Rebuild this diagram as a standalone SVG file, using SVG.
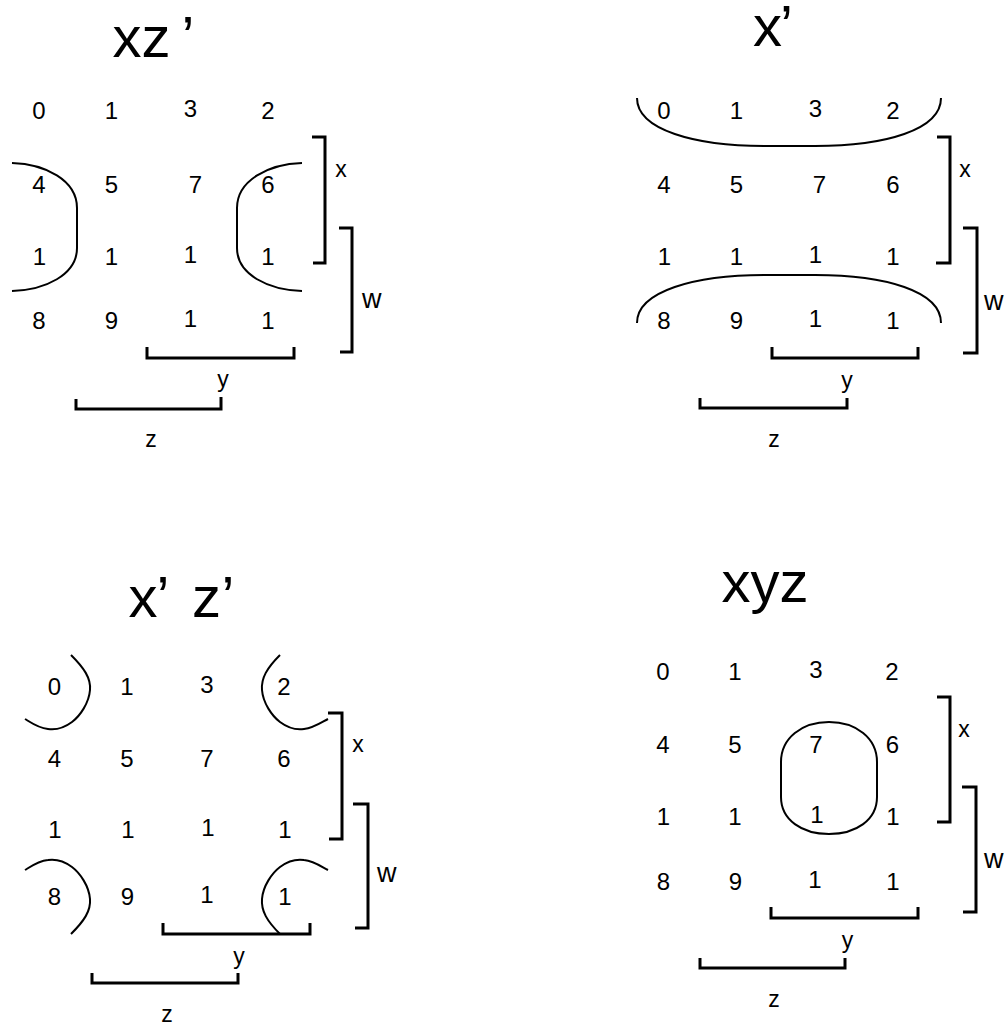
<svg xmlns="http://www.w3.org/2000/svg" width="1005" height="1026" viewBox="0 0 1005 1026">
  <style>
    text { font-family: "Liberation Sans", Arial, sans-serif; fill: #000; }
    .title { font-size: 58px; }
    .cell { font-size: 24px; text-anchor: middle; }
    .lbl { font-size: 23px; text-anchor: middle; }
    .wl { font-size: 27px; }
    .brk { fill: none; stroke: #000; stroke-width: 3; }
    .loop { fill: none; stroke: #000; stroke-width: 2; }
  </style>
  <rect width="1005" height="1026" fill="#fff"/>

  <!-- Map 1: xz' -->
  <g id="map-xz">
    <text class="title" x="112.5" y="57">xz<tspan x="181.5">’</tspan></text>
    <g id="map-xz-cells">
      <text class="cell" x="39" y="119">0</text><text class="cell" x="111.5" y="119">1</text><text class="cell" x="190.5" y="117">3</text><text class="cell" x="268" y="119">2</text>
      <text class="cell" x="39" y="193">4</text><text class="cell" x="111.5" y="193">5</text><text class="cell" x="195.5" y="193">7</text><text class="cell" x="268" y="193">6</text>
      <text class="cell" x="39.5" y="265">1</text><text class="cell" x="111.5" y="265">1</text><text class="cell" x="190.5" y="263">1</text><text class="cell" x="268" y="265">1</text>
      <text class="cell" x="39" y="329">8</text><text class="cell" x="111.5" y="329">9</text><text class="cell" x="190.5" y="327">1</text><text class="cell" x="268" y="329">1</text>
    </g>
    <text class="lbl" x="341" y="177">x</text>
    <text class="wl" x="362" y="308">w</text>
    <text class="lbl" x="223" y="387">y</text>
    <text class="lbl" x="151" y="447">z</text>
  </g>

  <!-- Map 2: x' -->
  <g id="map-x">
    <text class="title" x="753" y="46">x<tspan x="780">’</tspan></text>
    <g id="map-x-cells">
      <text class="cell" x="664" y="119">0</text><text class="cell" x="736.5" y="119">1</text><text class="cell" x="815.5" y="117">3</text><text class="cell" x="893" y="119">2</text>
      <text class="cell" x="664" y="193">4</text><text class="cell" x="736.5" y="193">5</text><text class="cell" x="819.5" y="193">7</text><text class="cell" x="893" y="193">6</text>
      <text class="cell" x="664.5" y="265">1</text><text class="cell" x="736.5" y="265">1</text><text class="cell" x="815.5" y="263">1</text><text class="cell" x="893" y="265">1</text>
      <text class="cell" x="664" y="329">8</text><text class="cell" x="736.5" y="329">9</text><text class="cell" x="815.5" y="327">1</text><text class="cell" x="893" y="329">1</text>
    </g>
    <text class="lbl" x="965" y="177">x</text>
    <text class="wl" x="984" y="310">w</text>
    <text class="lbl" x="847" y="388">y</text>
    <text class="lbl" x="774" y="447">z</text>
  </g>

  <!-- Map 3: x' z' -->
  <g id="map-xz-bar">
    <text class="title" x="128.5" y="617">x<tspan x="156.5">’</tspan><tspan x="192">z</tspan><tspan x="221.5">’</tspan></text>
    <g id="map-xz-bar-cells">
      <text class="cell" x="54.5" y="695">0</text><text class="cell" x="127" y="695">1</text><text class="cell" x="207" y="693">3</text><text class="cell" x="284" y="695">2</text>
      <text class="cell" x="54.5" y="767">4</text><text class="cell" x="127" y="767">5</text><text class="cell" x="207" y="767">7</text><text class="cell" x="284" y="767">6</text>
      <text class="cell" x="55" y="838">1</text><text class="cell" x="128" y="838">1</text><text class="cell" x="208" y="836">1</text><text class="cell" x="285" y="838">1</text>
      <text class="cell" x="54.5" y="905">8</text><text class="cell" x="127.5" y="905">9</text><text class="cell" x="207" y="903">1</text><text class="cell" x="285" y="905">1</text>
    </g>
    <text class="lbl" x="358" y="752">x</text>
    <text class="wl" x="377" y="882">w</text>
    <text class="lbl" x="239" y="964">y</text>
    <text class="lbl" x="167" y="1022">z</text>
  </g>

  <!-- Map 4: xyz -->
  <g id="map-xyz">
    <text class="title" x="721.5" y="602">xyz</text>
    <g id="map-xyz-cells">
      <text class="cell" x="663" y="680">0</text><text class="cell" x="735" y="680">1</text><text class="cell" x="816" y="678">3</text><text class="cell" x="892" y="680">2</text>
      <text class="cell" x="663" y="753">4</text><text class="cell" x="735" y="753">5</text><text class="cell" x="816" y="753">7</text><text class="cell" x="892.5" y="753">6</text>
      <text class="cell" x="663.5" y="825">1</text><text class="cell" x="735" y="825">1</text><text class="cell" x="817" y="823">1</text><text class="cell" x="893" y="825">1</text>
      <text class="cell" x="663.5" y="890">8</text><text class="cell" x="735.5" y="890">9</text><text class="cell" x="815" y="888">1</text><text class="cell" x="893" y="890">1</text>
    </g>
    <text class="lbl" x="964" y="737">x</text>
    <text class="wl" x="984" y="868">w</text>
    <text class="lbl" x="847.5" y="948">y</text>
    <text class="lbl" x="774" y="1007">z</text>
  </g>

  <!-- Groupings and variable brackets -->
  <g id="connectors">
    <!-- xz' : two side loops -->
    <path class="loop" d="M12,163 C45,164 77,180 77,208 L77,248 C77,275 45,290 12,291"/>
    <path class="loop" d="M302,163 C269,164 237,180 237,208 L237,248 C237,275 269,290 302,291"/>
    <path class="brk" d="M312,137 H325 V263 H313"/>
    <path class="brk" d="M339,228 H352 V352 H340"/>
    <path class="brk" d="M147,347 V358 H294 V347"/>
    <path class="brk" d="M76,399 V409 H221 V397"/>

    <!-- x' : top and bottom rows -->
    <path class="loop" d="M637,98 C637,130 695,146 765,146 L815,146 C885,146 941,130 941,98"/>
    <path class="loop" d="M637,323 C637,291 695,275 765,275 L815,275 C885,275 941,291 941,323"/>
    <path class="brk" d="M937,137 H950 V263 H936"/>
    <path class="brk" d="M963,228 H977 V353 H963"/>
    <path class="brk" d="M772,347 V358 H918 V347"/>
    <path class="brk" d="M700,398 V408 H847 V398"/>

    <!-- x' z' : four corners -->
    <path class="loop" d="M71,655 C84,668 91,678 90,690 C89,703 80,716 72,722 C64,728 55,730 48,729 C38,728 30,722 25,719"/>
    <path class="loop" d="M280,655 C267,668 261,678 262,690 C263,703 272,716 280,722 C288,728 297,730 304,729 C314,728 322,722 328,719"/>
    <path class="loop" d="M71,934 C84,921 91,911 90,899 C89,886 80,873 72,867 C64,861 55,859 48,860 C38,861 30,867 25,870"/>
    <path class="loop" d="M280,934 C267,921 261,911 262,899 C263,886 272,873 280,867 C288,861 297,859 304,860 C314,861 322,867 328,870"/>
    <path class="brk" d="M328,713 H342 V839 H329"/>
    <path class="brk" d="M353,804 H368 V928 H355"/>
    <path class="brk" d="M163,923 V934 H310 V923"/>
    <path class="brk" d="M92,973 V983 H238 V973"/>

    <!-- xyz : cells 7 and 15 -->
    <path class="loop" d="M781,762 C781,738 802,722 829,722 C856,722 877,738 877,762 L877,797 C877,820 856,834 829,834 C802,834 781,820 781,797 Z"/>
    <path class="brk" d="M937,697 H950 V822 H937"/>
    <path class="brk" d="M962,787 H976 V912 H963"/>
    <path class="brk" d="M771,907 V918 H918 V907"/>
    <path class="brk" d="M700,958 V968 H845 V958"/>
  </g>
</svg>
